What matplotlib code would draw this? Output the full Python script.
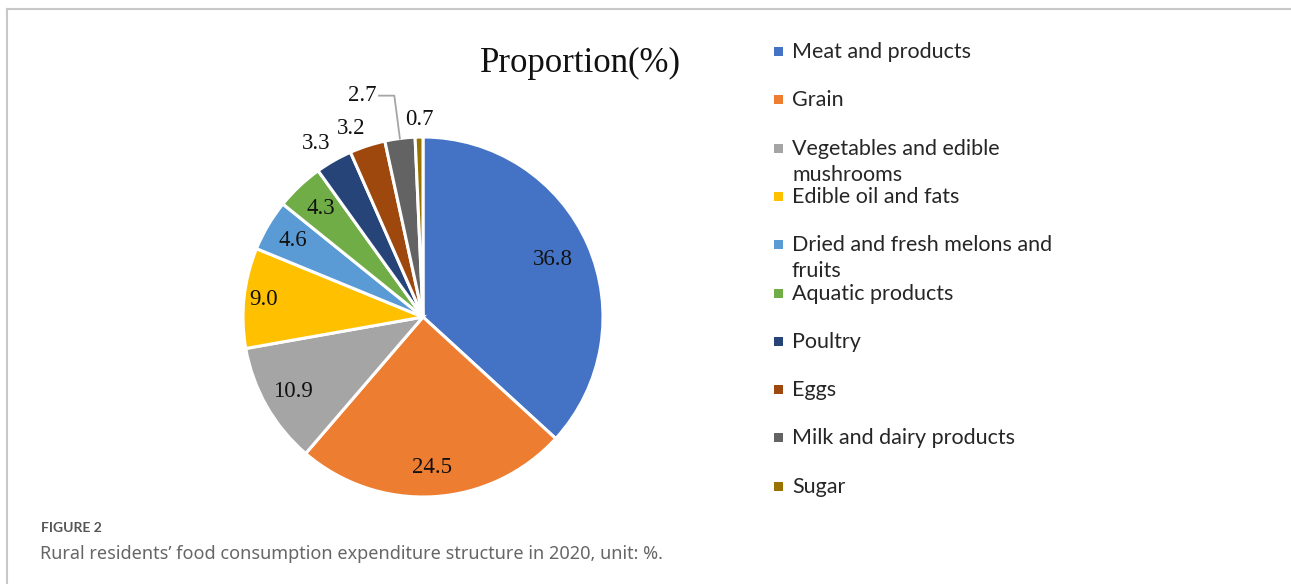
import numpy as np
import matplotlib
matplotlib.use("Agg")
import matplotlib.pyplot as plt
from matplotlib.patches import Rectangle
from matplotlib.lines import Line2D

# data
categories = ["Meat and products", "Grain", "Vegetables and edible\nmushrooms",
              "Edible oil and fats", "Dried and fresh melons and\nfruits",
              "Aquatic products", "Poultry", "Eggs", "Milk and dairy products", "Sugar"]
values = [36.8, 24.5, 10.9, 9.0, 4.6, 4.3, 3.3, 3.2, 2.7, 0.7]
colors = ["#4472C4", "#ED7D31", "#A5A5A5", "#FFC000", "#5B9BD5",
          "#70AD47", "#264478", "#9E480E", "#636363", "#997300"]
title = "Proportion(%)"
caption_head = "FIGURE 2"
caption = "Rural residents\u2019 food consumption expenditure structure in 2020, unit: %."

W, H = 1291, 584
fig = plt.figure(figsize=(W / 100, H / 100), dpi=100)

# frame around the figure (top + left)
fig.add_artist(Line2D([7 / W, 1.0], [1 - 9 / H, 1 - 9 / H], color="#c8c8c8", lw=1.5,
                      transform=fig.transFigure))
fig.add_artist(Line2D([7 / W, 7 / W], [0, 1 - 9 / H], color="#c8c8c8", lw=1.5,
                      transform=fig.transFigure))

# pie axes, 1 data unit = R pixels
R = 180
cx, cy = 423, 317
span = 1.5
w = 2 * span * R / W
h = 2 * span * R / H
ax = fig.add_axes([cx / W - w / 2, 1 - cy / H - h / 2, w, h])

wedges, _ = ax.pie(values, colors=colors, startangle=90, counterclock=False,
                   radius=1.0, wedgeprops=dict(edgecolor="white", linewidth=2.2),
                   center=(0, 0), frame=True)
ax.set_xlim(-span, span)
ax.set_ylim(-span, span)
ax.axis("off")

serif = "Liberation Serif"
inner_r = [0.79, 0.84, 0.83, 0.89, 0.84, 0.83]
for i, (wd, v) in enumerate(zip(wedges, values)):
    ang = np.deg2rad((wd.theta1 + wd.theta2) / 2)
    c, s = np.cos(ang), np.sin(ang)
    txt = "%.1f" % v
    if i < len(inner_r):
        r = inner_r[i]
        ax.text(r * c, r * s, txt, ha="center", va="center", fontsize=16.5,
                family=serif, color="#111111")
    elif categories[i].startswith("Milk"):
        # leader line
        p0 = (1.0 * c, 1.0 * s)
        p1 = (1.24 * c, 1.24 * s)
        p2 = (p1[0] - 0.085, p1[1])
        ax.plot([p0[0], p1[0], p2[0]], [p0[1], p1[1], p2[1]], color="#a6a6a6", lw=1.3)
        ax.text(p2[0] - 0.015, p2[1], txt, ha="right", va="center", fontsize=16.5,
                family=serif, color="#111111")
    else:
        r = 1.04
        ha = "right" if c < -0.1 else "center"
        ax.text(r * c, r * s, txt, ha=ha, va="bottom", fontsize=16.5,
                family=serif, color="#111111")

fig.text(580 / W, 1 - 63 / H, title, ha="center", va="center", fontsize=25,
         family=serif, color="#111111")

# legend drawn by hand (Excel style, fixed spacing)
leg_font = "Lato"
y0, step = 58, 48.3
for i, (lab, col) in enumerate(zip(categories, colors)):
    yb = y0 + i * step
    fig.add_artist(Rectangle(((778 - 4.5) / W, 1 - (yb - 6.5 + 4.5) / H), 9 / W, 9 / H,
                             transform=fig.transFigure, facecolor=col, edgecolor="none"))
    for j, line in enumerate(lab.split("\n")):
        fig.text(792 / W, 1 - (yb + j * 26) / H, line, ha="left", va="baseline",
                 fontsize=15.5, family=leg_font, color="#262626")

fig.text(41 / W, 1 - 528 / H, caption_head, ha="left", va="center", fontsize=10,
         family="Lato", weight="bold", color="#555555")
fig.text(40 / W, 1 - 554 / H, caption, ha="left", va="center", fontsize=13,
         family="Noto Sans", color="#666666")

fig.savefig("out.png", dpi=100)
